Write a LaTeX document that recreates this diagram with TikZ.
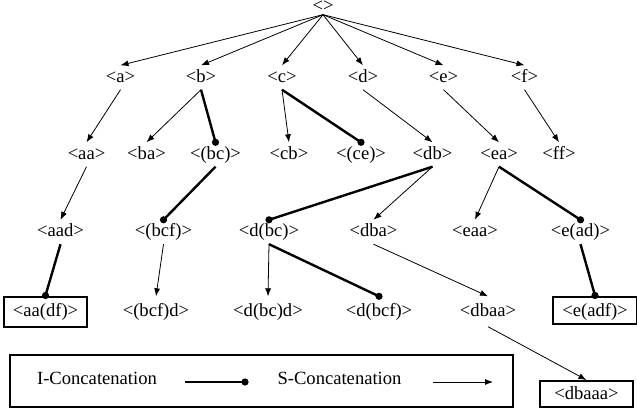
\documentclass[tikz,border=0pt]{standalone}
\usepackage{fontspec}
\setmainfont{Liberation Serif}
\usetikzlibrary{arrows.meta}
\newcommand\iconc[2]{\draw[iedge] (#1) -- (#2); \fill (#2) circle[radius=3.6pt];}
\begin{document}
\begin{tikzpicture}[x=1pt,y=-1pt,
  every node/.style={font=\fontsize{18.6}{22}\selectfont, inner xsep=0pt, inner ysep=3pt,
    text height=13.5pt, text depth=4.5pt, anchor=base},
  levfour/.style={text height=17pt, text depth=7pt},
  boxed/.style={draw, line width=2pt, inner xsep=9pt},
  sarrow/.style={line width=0.8pt, -{Latex[length=8pt,width=6pt]}},
  iedge/.style={line width=2.4pt},
]
\useasboundingbox (0,0) rectangle (637,415);
% root
\node[text height=9pt, text depth=2pt, inner ysep=1.5pt] (r) at (323,11) {<>};
% level 1
\node (a) at (120.5,82) {<a>};
\node (b) at (201,82) {<b>};
\node (c) at (282,82) {<c>};
\node (d) at (363,82) {<d>};
\node (e) at (443.5,82) {<e>};
\node (f) at (524.5,82) {<f>};
% level 2
\node (aa) at (86.5,159) {<aa>};
\node (ba) at (146.5,159) {<ba>};
\node (bc) at (215.5,159) {<(bc)>};
\node (cb) at (289,159) {<cb>};
\node (ce) at (361,159) {<(ce)>};
\node (db) at (432.5,159) {<db>};
\node (ea) at (499,159) {<ea>};
\node (ff) at (559,159) {<ff>};
% level 3
\node (aad) at (60.5,236.5) {<aad>};
\node (bcf) at (163.5,236.5) {<(bcf)>};
\node (dbc) at (269,236.5) {<d(bc)>};
\node (dba) at (373.5,236.5) {<dba>};
\node (eaa) at (475,236.5) {<eaa>};
\node (ead) at (580.5,236.5) {<e(ad)>};
% level 4
\node[levfour,boxed] (aadf) at (45.5,316.5) {<aa(df)>};
\node[levfour] (bcfd) at (156,316.5) {<(bcf)d>};
\node[levfour] (dbcd) at (268,316.5) {<d(bc)d>};
\node[levfour] (dbcf) at (379,316.5) {<d(bcf)>};
\node[levfour] (dbaa) at (488,316.5) {<dbaa>};
\node[levfour,boxed,text depth=4pt] (eadf) at (595,316.5) {<e(adf)>};
\node[boxed,text height=15.5pt,text depth=4.5pt,minimum width=93pt] (dbaaa) at (586.5,399.5) {<dbaaa>};
% S-concatenation edges
\foreach \t in {a,b,c,d,e,f} \draw[sarrow] (r.south) -- (\t.north);
\draw[sarrow] (a.south) -- (aa.north);
\draw[sarrow] (b.south) -- (ba.north);
\draw[sarrow] (c.south) -- (cb.north);
\draw[sarrow] (d.south) -- (db.north);
\draw[sarrow] (e.south) -- (ea.north);
\draw[sarrow] (f.south) -- (ff.north);
\draw[sarrow] (aa.south) -- (aad.north);
\draw[sarrow] (db.south) -- (dba.north);
\draw[sarrow] (ea.south) -- (eaa.north);
\draw[sarrow] (bcf.south) -- (bcfd.north);
\draw[sarrow] (dbc.south) -- (dbcd.north);
\draw[sarrow] (dba.south) -- (dbaa.north);
\draw[sarrow] (dbaa.south) -- (dbaaa.north);
% I-concatenation edges
\iconc{b.south}{bc.north}
\iconc{c.south}{ce.north}
\iconc{bc.south}{bcf.north}
\iconc{db.south}{dbc.north}
\iconc{ea.south}{ead.north}
\iconc{aad.south}{aadf.north}
\iconc{dbc.south}{dbcf.north}
\iconc{ead.south}{eadf.north}
% legend
\node[draw, line width=2pt, minimum width=503pt, minimum height=52pt, anchor=center] (leg) at (261.5,381) {};
\node (il) at (97,384.5) {I-Concatenation};
\coordinate (i1) at (185,382);
\coordinate (i2) at (245,382);
\iconc{i1}{i2}
\node (sl) at (339.5,384.5) {S-Concatenation};
\coordinate (s1) at (433,382);
\coordinate (s2) at (493,382);
\draw[sarrow] (s1) -- (s2);
\end{tikzpicture}
\end{document}
